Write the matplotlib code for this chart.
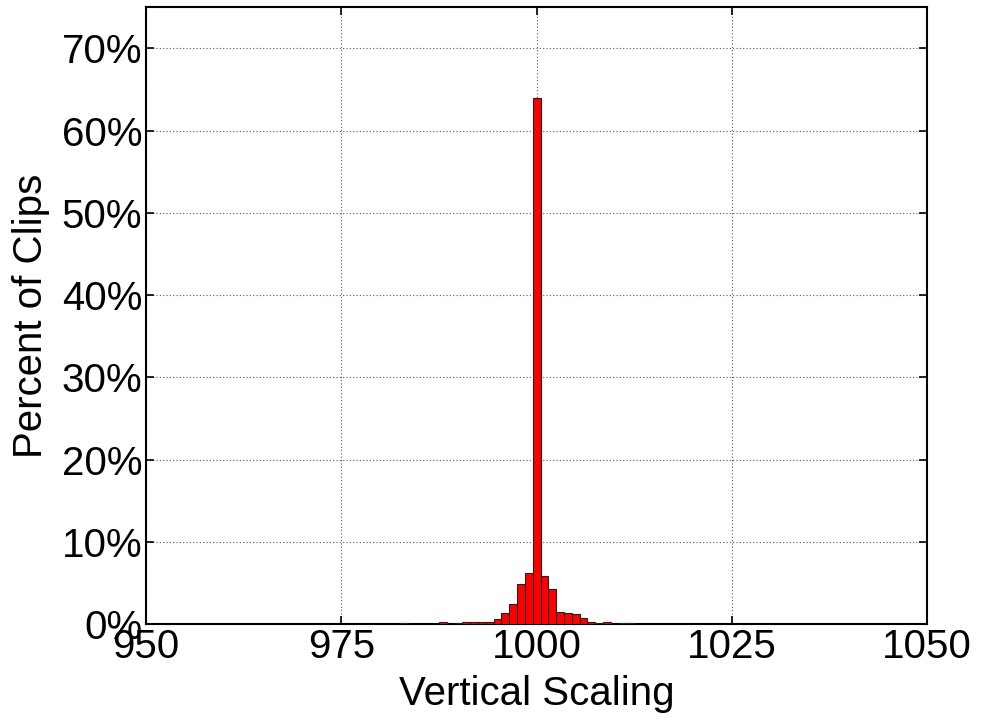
import matplotlib
matplotlib.use("Agg")
import matplotlib.pyplot as plt

plt.rcParams['font.family'] = ['Liberation Sans', 'DejaVu Sans']

# bin centres (vertical scaling) and percent of clips per bin
scaling = [983, 988, 990, 991, 992, 993, 994, 995, 996, 997, 998, 999,
           1000, 1001, 1002, 1003, 1004, 1005, 1006, 1007, 1008, 1009,
           1010, 1011, 1012]
percent = [0.15, 0.25, 0.15, 0.3, 0.2, 0.3, 0.3, 0.6, 1.3, 2.45, 4.9, 6.2,
           64.0, 5.9, 4.3, 1.5, 1.4, 1.2, 0.7, 0.3, 0.1, 0.3,
           0.05, 0.15, 0.15]

xticks = [950, 975, 1000, 1025, 1050]
yticks = [0, 10, 20, 30, 40, 50, 60, 70]

fig = plt.figure(figsize=(9.81, 7.21), dpi=100)
ax = fig.add_axes([0.149, 0.1345, 0.796, 0.8555])

ax.bar(scaling, percent, width=1.0, color='#ff0000', edgecolor='#222222',
       linewidth=0.8, zorder=3)

ax.set_xlim(950, 1050)
ax.set_ylim(0, 75)
ax.set_xticks(xticks)
ax.set_yticks(yticks)
ax.set_yticklabels(['%d%%' % v for v in yticks])
ax.grid(True, linestyle=(0, (1, 2)), color='#555555', linewidth=0.8, zorder=0)
ax.tick_params(direction='in', top=True, right=True, length=6, width=1.2,
               labelsize=29, pad=3)
for s in ax.spines.values():
    s.set_linewidth(1.5)

ax.set_xlabel('Vertical Scaling', fontsize=29, labelpad=6)
ax.set_ylabel('Percent of Clips', fontsize=29, labelpad=8)

fig.savefig('out.png', dpi=100)
